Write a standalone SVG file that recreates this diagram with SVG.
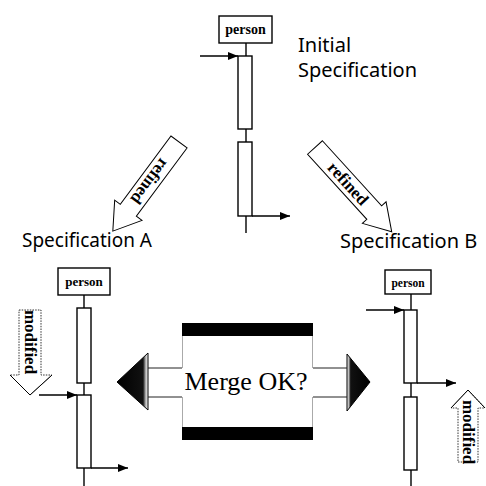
<svg xmlns="http://www.w3.org/2000/svg" width="486" height="486" viewBox="0 0 486 486">
  <style>
    .box { fill: #fff; stroke: #000; stroke-width: 1.4; }
    .life { stroke: #000; stroke-width: 1.4; fill: none; }
    .msg { stroke: #000; stroke-width: 1.6; fill: none; marker-end: url(#head); }
    .who { font-family: "Liberation Serif", "Times New Roman", serif; font-weight: bold; text-anchor: middle; fill: #000; }
    .label { font-family: "Noto Sans", "Open Sans", sans-serif; font-size: 20px; fill: #000; }
    .block { fill: #fff; stroke: #000; stroke-width: 1; }
    .dotted { fill: #fff; stroke: #333; stroke-width: 1; stroke-dasharray: 1.5 1.2; }
    .tag { font-family: "Liberation Serif", "Times New Roman", serif; font-weight: bold; font-size: 17px; text-anchor: middle; dominant-baseline: central; fill: #000; }
    .merge { font-family: "Liberation Serif", "Times New Roman", serif; font-size: 26px; text-anchor: middle; fill: #000; }
  </style>
  <defs>
    <marker id="head" viewBox="0 0 10 8" refX="10" refY="4" markerWidth="10" markerHeight="8" markerUnits="userSpaceOnUse" orient="auto">
      <path d="M0,0 L10,4 L0,8 Z" fill="#000"/>
    </marker>
    <linearGradient id="leftShade" x1="1" y1="0" x2="0" y2="0">
      <stop offset="0" stop-color="#f4f4f4"/>
      <stop offset="0.07" stop-color="#bbb"/>
      <stop offset="0.16" stop-color="#111"/>
      <stop offset="1" stop-color="#000"/>
    </linearGradient>
    <linearGradient id="rightShade" x1="0" y1="0" x2="1" y2="0">
      <stop offset="0" stop-color="#f4f4f4"/>
      <stop offset="0.07" stop-color="#bbb"/>
      <stop offset="0.16" stop-color="#111"/>
      <stop offset="1" stop-color="#000"/>
    </linearGradient>
  </defs>

  <!-- Initial specification -->
  <g id="initial-person">
    <line class="life" x1="246" y1="43" x2="246" y2="233"/>
    <rect class="box" x="219" y="16" width="53" height="27"/>
    <text class="who" x="245.5" y="34" font-size="14">person</text>
    <rect class="box" x="238" y="56" width="14" height="73"/>
    <rect class="box" x="238" y="142" width="14" height="74"/>
  </g>
  <g id="initial-label">
    <text class="label" x="298" y="52">Initial</text>
    <text class="label" x="298" y="77">Specification</text>
  </g>

  <!-- Specification A -->
  <g id="spec-a-person">
    <line class="life" x1="84" y1="295" x2="84" y2="486"/>
    <rect class="box" x="58" y="268" width="52" height="27"/>
    <text class="who" x="84" y="286" font-size="13">person</text>
    <rect class="box" x="77" y="308" width="14" height="75"/>
    <rect class="box" x="77" y="395" width="14" height="73"/>
  </g>
  <g id="spec-a-label">
    <text class="label" x="22" y="247" textLength="130" lengthAdjust="spacingAndGlyphs">Specification A</text>
  </g>

  <!-- Specification B -->
  <g id="spec-b-person">
    <line class="life" x1="411" y1="294" x2="411" y2="486"/>
    <rect class="box" x="385" y="270" width="46" height="24"/>
    <text class="who" x="408" y="287" font-size="11.5">person</text>
    <rect class="box" x="404" y="310" width="13" height="73"/>
    <rect class="box" x="404" y="397" width="13" height="73"/>
  </g>
  <g id="spec-b-label">
    <text class="label" x="340" y="248">Specification B</text>
  </g>

  <!-- messages -->
  <g id="connectors">
    <line class="msg" x1="200" y1="56" x2="238" y2="56"/>
    <line class="msg" x1="252" y1="216" x2="290" y2="216"/>
    <line class="msg" x1="39" y1="395" x2="77" y2="395"/>
    <line class="msg" x1="91" y1="468" x2="128" y2="468"/>
    <line class="msg" x1="366" y1="310" x2="404" y2="310"/>
    <line class="msg" x1="417" y1="383" x2="456" y2="383"/>
  </g>

  <!-- refinement arrows -->
  <g id="refined-a" transform="translate(179,142) rotate(126.6)">
    <polygon class="block" points="0,-10 85,-10 85,-17 111,0 85,17 85,10 0,10"/>
    <text class="tag" x="49" y="0">refined</text>
  </g>
  <g id="refined-b" transform="translate(315,147.5) rotate(47.7)">
    <polygon class="block" points="0,-10 88,-10 88,-16 114,0 88,16 88,10 0,10"/>
    <text class="tag" x="49" y="0">refined</text>
  </g>

  <!-- modification arrows -->
  <g id="modified-a">
    <polygon class="dotted" points="19,310 41,310 41,375 52,375 30,395 10,375 19,375"/>
    <polyline fill="none" stroke="#000" stroke-width="1" points="10,375 30,395 52,375"/>
    <text class="tag" transform="translate(30,342) rotate(90)" font-size="16">modified</text>
  </g>
  <g id="modified-b">
    <polygon class="dotted" points="458,462 478,462 478,408 485,408 468,390 451,408 458,408"/>
    <polyline fill="none" stroke="#000" stroke-width="1" points="451,408 468,390 485,408"/>
    <text class="tag" transform="translate(468,432) rotate(90)" font-size="16">modified</text>
  </g>

  <!-- merge question -->
  <g id="merge">
    <polygon points="148,353 148,410 117,382" fill="url(#leftShade)" stroke="#000" stroke-width="1"/>
    <polygon points="347,354 347,411 370,382" fill="url(#rightShade)" stroke="#000" stroke-width="1"/>
    <g stroke="#222" stroke-width="1">
      <line x1="148" y1="368" x2="182" y2="368"/>
      <line x1="148" y1="397" x2="182" y2="397"/>
      <line x1="313" y1="368" x2="347" y2="368"/>
      <line x1="313" y1="397" x2="347" y2="397"/>
    </g>
    <g stroke="#aaa" stroke-width="1">
      <line x1="182.5" y1="336" x2="182.5" y2="368"/>
      <line x1="182.5" y1="397" x2="182.5" y2="427"/>
      <line x1="312.5" y1="336" x2="312.5" y2="368"/>
      <line x1="312.5" y1="397" x2="312.5" y2="427"/>
    </g>
    <rect x="182" y="323" width="131" height="13" fill="#000"/>
    <rect x="182" y="427" width="131" height="13" fill="#000"/>
    <text class="merge" x="246" y="390">Merge OK?</text>
  </g>
</svg>
